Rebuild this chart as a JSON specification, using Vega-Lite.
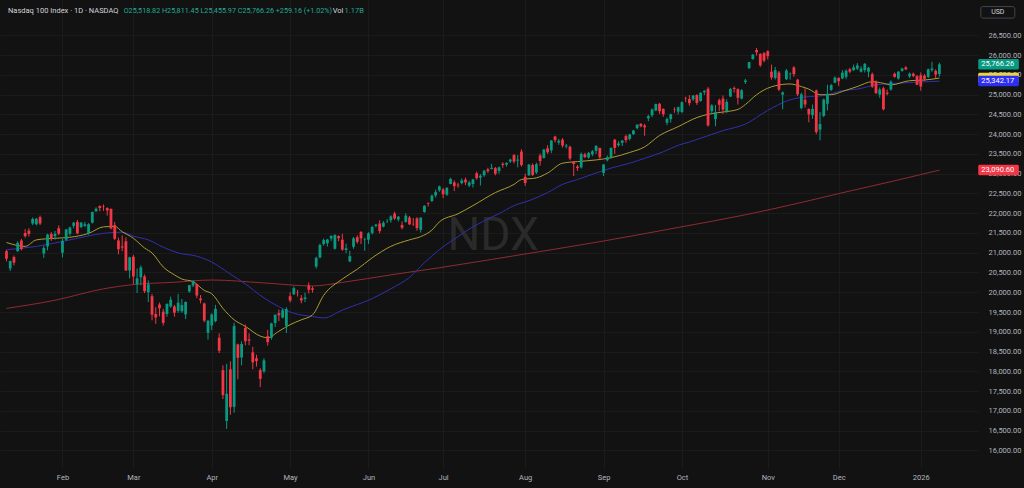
{
"$schema":"https://vega.github.io/schema/vega-lite/v6.json",
"width":978,"height":468,
"autosize":{"type":"none"},
"padding":{"left":0,"top":0,"right":46,"bottom":20},
"background":"#121212",
"config":{"view":{"stroke":null},"font":"Roboto","axis":{"labelFont":"Roboto","labelFontSize":7.5,"labelColor":"#b2b5be","ticks":false,"domain":false,"grid":true,"gridColor":"#1b1b1b","gridWidth":1,"labelOverlap":false}},
"datasets":{
"ohlc":[
{"d":"2025-01-10","i":0,"o":21040,"h":21070,"l":20780,"c":20847},
{"d":"2025-01-13","i":1,"o":20600,"h":20800,"l":20540,"c":20790},
{"d":"2025-01-14","i":2,"o":20890,"h":20930,"l":20680,"c":20750},
{"d":"2025-01-15","i":3,"o":21040,"h":21290,"l":21020,"c":21250},
{"d":"2025-01-16","i":4,"o":21310,"h":21350,"l":21060,"c":21090},
{"d":"2025-01-17","i":5,"o":21500,"h":21600,"l":21380,"c":21420},
{"d":"2025-01-21","i":6,"o":21560,"h":21620,"l":21410,"c":21475},
{"d":"2025-01-22","i":7,"o":21740,"h":21890,"l":21700,"c":21853},
{"d":"2025-01-23","i":8,"o":21720,"h":21880,"l":21690,"c":21860},
{"d":"2025-01-24","i":9,"o":21900,"h":21940,"l":21700,"c":21740},
{"d":"2025-01-27","i":10,"o":20980,"h":21180,"l":20870,"c":21120},
{"d":"2025-01-28","i":11,"o":21160,"h":21480,"l":21060,"c":21460},
{"d":"2025-01-29","i":12,"o":21475,"h":21520,"l":21300,"c":21360},
{"d":"2025-01-30","i":13,"o":21420,"h":21550,"l":21330,"c":21480},
{"d":"2025-01-31","i":14,"o":21620,"h":21690,"l":21440,"c":21480},
{"d":"2025-02-03","i":15,"o":21000,"h":21350,"l":20880,"c":21300},
{"d":"2025-02-04","i":16,"o":21330,"h":21600,"l":21300,"c":21590},
{"d":"2025-02-05","i":17,"o":21480,"h":21660,"l":21430,"c":21640},
{"d":"2025-02-06","i":18,"o":21680,"h":21780,"l":21620,"c":21760},
{"d":"2025-02-07","i":19,"o":21780,"h":21830,"l":21470,"c":21490},
{"d":"2025-02-10","i":20,"o":21650,"h":21780,"l":21620,"c":21760},
{"d":"2025-02-11","i":21,"o":21680,"h":21780,"l":21650,"c":21720},
{"d":"2025-02-12","i":22,"o":21500,"h":21750,"l":21460,"c":21720},
{"d":"2025-02-13","i":23,"o":21760,"h":22040,"l":21740,"c":22030},
{"d":"2025-02-14","i":24,"o":22050,"h":22150,"l":22030,"c":22115},
{"d":"2025-02-18","i":25,"o":22180,"h":22200,"l":22050,"c":22130},
{"d":"2025-02-19","i":26,"o":22180,"h":22220,"l":22060,"c":22170},
{"d":"2025-02-20","i":27,"o":22130,"h":22150,"l":21940,"c":22070},
{"d":"2025-02-21","i":28,"o":22110,"h":22120,"l":21590,"c":21614},
{"d":"2025-02-24","i":29,"o":21700,"h":21780,"l":21320,"c":21353},
{"d":"2025-02-25","i":30,"o":21310,"h":21380,"l":20960,"c":21090},
{"d":"2025-02-26","i":31,"o":21160,"h":21440,"l":21040,"c":21130},
{"d":"2025-02-27","i":32,"o":21290,"h":21390,"l":20540,"c":20550},
{"d":"2025-02-28","i":33,"o":20550,"h":20900,"l":20350,"c":20884},
{"d":"2025-03-03","i":34,"o":20900,"h":20950,"l":20200,"c":20400},
{"d":"2025-03-04","i":35,"o":20200,"h":20600,"l":19980,"c":20353},
{"d":"2025-03-05","i":36,"o":20380,"h":20680,"l":20180,"c":20629},
{"d":"2025-03-06","i":37,"o":20400,"h":20450,"l":19980,"c":20026},
{"d":"2025-03-07","i":38,"o":20000,"h":20300,"l":19750,"c":20201},
{"d":"2025-03-10","i":39,"o":19900,"h":19960,"l":19290,"c":19431},
{"d":"2025-03-11","i":40,"o":19450,"h":19620,"l":19200,"c":19361},
{"d":"2025-03-12","i":41,"o":19690,"h":19740,"l":19390,"c":19594},
{"d":"2025-03-13","i":42,"o":19510,"h":19580,"l":19160,"c":19225},
{"d":"2025-03-14","i":43,"o":19450,"h":19720,"l":19380,"c":19704},
{"d":"2025-03-17","i":44,"o":19640,"h":19890,"l":19610,"c":19812},
{"d":"2025-03-18","i":45,"o":19640,"h":19680,"l":19380,"c":19483},
{"d":"2025-03-19","i":46,"o":19530,"h":19960,"l":19480,"c":19737},
{"d":"2025-03-20","i":47,"o":19520,"h":19830,"l":19480,"c":19678},
{"d":"2025-03-21","i":48,"o":19440,"h":19770,"l":19320,"c":19754},
{"d":"2025-03-24","i":49,"o":20020,"h":20190,"l":19990,"c":20180},
{"d":"2025-03-25","i":50,"o":20170,"h":20300,"l":20130,"c":20288},
{"d":"2025-03-26","i":51,"o":20210,"h":20220,"l":19850,"c":19917},
{"d":"2025-03-27","i":52,"o":19840,"h":19930,"l":19720,"c":19798},
{"d":"2025-03-28","i":53,"o":19716,"h":19740,"l":19240,"c":19282},
{"d":"2025-03-31","i":54,"o":18973,"h":19300,"l":18800,"c":19279},
{"d":"2025-04-01","i":55,"o":19160,"h":19470,"l":19040,"c":19436},
{"d":"2025-04-02","i":56,"o":19270,"h":19680,"l":19240,"c":19581},
{"d":"2025-04-03","i":57,"o":18850,"h":18960,"l":18460,"c":18521},
{"d":"2025-04-04","i":58,"o":18030,"h":18150,"l":17300,"c":17398},
{"d":"2025-04-07","i":59,"o":16745,"h":18190,"l":16542,"c":17431},
{"d":"2025-04-08","i":60,"o":18050,"h":18250,"l":16900,"c":17091},
{"d":"2025-04-09","i":61,"o":17100,"h":19230,"l":16950,"c":19145},
{"d":"2025-04-10","i":62,"o":18680,"h":18700,"l":17800,"c":18343},
{"d":"2025-04-11","i":63,"o":18350,"h":18760,"l":18150,"c":18690},
{"d":"2025-04-14","i":64,"o":19100,"h":19180,"l":18660,"c":18762},
{"d":"2025-04-15","i":65,"o":18810,"h":18960,"l":18660,"c":18778},
{"d":"2025-04-16","i":66,"o":18480,"h":18620,"l":18050,"c":18228},
{"d":"2025-04-17","i":67,"o":18330,"h":18420,"l":18120,"c":18258},
{"d":"2025-04-21","i":68,"o":18030,"h":18080,"l":17600,"c":17808},
{"d":"2025-04-22","i":69,"o":18000,"h":18330,"l":17950,"c":18277},
{"d":"2025-04-23","i":70,"o":18890,"h":19050,"l":18650,"c":18737},
{"d":"2025-04-24","i":71,"o":18850,"h":19230,"l":18800,"c":19213},
{"d":"2025-04-25","i":72,"o":19220,"h":19440,"l":19120,"c":19432},
{"d":"2025-04-28","i":73,"o":19470,"h":19560,"l":19270,"c":19419},
{"d":"2025-04-29","i":74,"o":19360,"h":19590,"l":19340,"c":19546},
{"d":"2025-04-30","i":75,"o":19150,"h":19620,"l":18970,"c":19571},
{"d":"2025-05-01","i":76,"o":19900,"h":20000,"l":19740,"c":19790},
{"d":"2025-05-02","i":77,"o":19950,"h":20150,"l":19930,"c":20103},
{"d":"2025-05-05","i":78,"o":20000,"h":20060,"l":19890,"c":19992},
{"d":"2025-05-06","i":79,"o":19850,"h":19930,"l":19720,"c":19791},
{"d":"2025-05-07","i":80,"o":19830,"h":19990,"l":19750,"c":19868},
{"d":"2025-05-08","i":81,"o":20170,"h":20250,"l":19970,"c":20064},
{"d":"2025-05-09","i":82,"o":20100,"h":20150,"l":19990,"c":20062},
{"d":"2025-05-12","i":83,"o":20650,"h":20900,"l":20600,"c":20868},
{"d":"2025-05-13","i":84,"o":20880,"h":21230,"l":20860,"c":21196},
{"d":"2025-05-14","i":85,"o":21220,"h":21360,"l":21180,"c":21320},
{"d":"2025-05-15","i":86,"o":21240,"h":21350,"l":21160,"c":21335},
{"d":"2025-05-16","i":87,"o":21360,"h":21440,"l":21300,"c":21427},
{"d":"2025-05-19","i":88,"o":21100,"h":21470,"l":21080,"c":21447},
{"d":"2025-05-20","i":89,"o":21420,"h":21440,"l":21290,"c":21367},
{"d":"2025-05-21","i":90,"o":21330,"h":21480,"l":21050,"c":21079},
{"d":"2025-05-22","i":91,"o":21070,"h":21230,"l":20990,"c":21112},
{"d":"2025-05-23","i":92,"o":20780,"h":21050,"l":20760,"c":20915},
{"d":"2025-05-27","i":93,"o":21150,"h":21400,"l":21100,"c":21363},
{"d":"2025-05-28","i":94,"o":21390,"h":21440,"l":21230,"c":21275},
{"d":"2025-05-29","i":95,"o":21530,"h":21540,"l":21220,"c":21363},
{"d":"2025-05-30","i":96,"o":21330,"h":21380,"l":21050,"c":21340},
{"d":"2025-06-02","i":97,"o":21330,"h":21520,"l":21220,"c":21491},
{"d":"2025-06-03","i":98,"o":21500,"h":21680,"l":21460,"c":21651},
{"d":"2025-06-04","i":99,"o":21680,"h":21730,"l":21640,"c":21712},
{"d":"2025-06-05","i":100,"o":21740,"h":21820,"l":21490,"c":21547},
{"d":"2025-06-06","i":101,"o":21660,"h":21800,"l":21640,"c":21761},
{"d":"2025-06-09","i":102,"o":21790,"h":21850,"l":21750,"c":21797},
{"d":"2025-06-10","i":103,"o":21820,"h":21950,"l":21760,"c":21920},
{"d":"2025-06-11","i":104,"o":21990,"h":22040,"l":21830,"c":21866},
{"d":"2025-06-12","i":105,"o":21840,"h":21930,"l":21790,"c":21913},
{"d":"2025-06-13","i":106,"o":21700,"h":21790,"l":21590,"c":21631},
{"d":"2025-06-16","i":107,"o":21780,"h":22000,"l":21760,"c":21940},
{"d":"2025-06-17","i":108,"o":21890,"h":21930,"l":21700,"c":21719},
{"d":"2025-06-18","i":109,"o":21730,"h":21880,"l":21680,"c":21720},
{"d":"2025-06-20","i":110,"o":21870,"h":21900,"l":21560,"c":21626},
{"d":"2025-06-23","i":111,"o":21580,"h":21900,"l":21510,"c":21887},
{"d":"2025-06-24","i":112,"o":22030,"h":22200,"l":22010,"c":22190},
{"d":"2025-06-25","i":113,"o":22250,"h":22280,"l":22170,"c":22237},
{"d":"2025-06-26","i":114,"o":22310,"h":22470,"l":22280,"c":22447},
{"d":"2025-06-27","i":115,"o":22450,"h":22600,"l":22400,"c":22534},
{"d":"2025-06-30","i":116,"o":22580,"h":22700,"l":22540,"c":22679},
{"d":"2025-07-01","i":117,"o":22600,"h":22640,"l":22380,"c":22480},
{"d":"2025-07-02","i":118,"o":22470,"h":22660,"l":22440,"c":22641},
{"d":"2025-07-03","i":119,"o":22740,"h":22900,"l":22730,"c":22867},
{"d":"2025-07-07","i":120,"o":22780,"h":22830,"l":22560,"c":22686},
{"d":"2025-07-08","i":121,"o":22720,"h":22770,"l":22640,"c":22700},
{"d":"2025-07-09","i":122,"o":22760,"h":22880,"l":22730,"c":22830},
{"d":"2025-07-10","i":123,"o":22850,"h":22900,"l":22710,"c":22780},
{"d":"2025-07-11","i":124,"o":22700,"h":22820,"l":22660,"c":22780},
{"d":"2025-07-14","i":125,"o":22740,"h":22870,"l":22650,"c":22855},
{"d":"2025-07-15","i":126,"o":23010,"h":23050,"l":22850,"c":22884},
{"d":"2025-07-16","i":127,"o":22900,"h":22990,"l":22700,"c":22950},
{"d":"2025-07-17","i":128,"o":22960,"h":23090,"l":22920,"c":23076},
{"d":"2025-07-18","i":129,"o":23110,"h":23150,"l":23020,"c":23065},
{"d":"2025-07-21","i":130,"o":23120,"h":23250,"l":23110,"c":23150},
{"d":"2025-07-22","i":131,"o":23140,"h":23170,"l":22960,"c":22999},
{"d":"2025-07-23","i":132,"o":23070,"h":23180,"l":23000,"c":23162},
{"d":"2025-07-24","i":133,"o":23250,"h":23290,"l":23150,"c":23220},
{"d":"2025-07-25","i":134,"o":23230,"h":23290,"l":23180,"c":23272},
{"d":"2025-07-28","i":135,"o":23310,"h":23380,"l":23270,"c":23356},
{"d":"2025-07-29","i":136,"o":23470,"h":23500,"l":23260,"c":23308},
{"d":"2025-07-30","i":137,"o":23330,"h":23470,"l":23160,"c":23356},
{"d":"2025-07-31","i":138,"o":23560,"h":23620,"l":23180,"c":23218},
{"d":"2025-08-01","i":139,"o":22920,"h":23000,"l":22690,"c":22763},
{"d":"2025-08-04","i":140,"o":22960,"h":23250,"l":22940,"c":23230},
{"d":"2025-08-05","i":141,"o":23220,"h":23260,"l":22940,"c":22969},
{"d":"2025-08-06","i":142,"o":23030,"h":23280,"l":22990,"c":23240},
{"d":"2025-08-07","i":143,"o":23460,"h":23510,"l":23200,"c":23318},
{"d":"2025-08-08","i":144,"o":23400,"h":23630,"l":23380,"c":23610},
{"d":"2025-08-11","i":145,"o":23640,"h":23720,"l":23500,"c":23542},
{"d":"2025-08-12","i":146,"o":23590,"h":23850,"l":23520,"c":23839},
{"d":"2025-08-13","i":147,"o":23940,"h":23960,"l":23790,"c":23849},
{"d":"2025-08-14","i":148,"o":23790,"h":23880,"l":23730,"c":23832},
{"d":"2025-08-15","i":149,"o":23860,"h":23900,"l":23660,"c":23712},
{"d":"2025-08-18","i":150,"o":23690,"h":23750,"l":23640,"c":23713},
{"d":"2025-08-19","i":151,"o":23680,"h":23710,"l":23340,"c":23385},
{"d":"2025-08-20","i":152,"o":23300,"h":23320,"l":22940,"c":23245},
{"d":"2025-08-21","i":153,"o":23180,"h":23220,"l":23070,"c":23142},
{"d":"2025-08-22","i":154,"o":23160,"h":23540,"l":23130,"c":23498},
{"d":"2025-08-25","i":155,"o":23490,"h":23530,"l":23400,"c":23420},
{"d":"2025-08-26","i":156,"o":23410,"h":23550,"l":23380,"c":23526},
{"d":"2025-08-27","i":157,"o":23490,"h":23600,"l":23440,"c":23566},
{"d":"2025-08-28","i":158,"o":23580,"h":23720,"l":23500,"c":23704},
{"d":"2025-08-29","i":159,"o":23650,"h":23660,"l":23350,"c":23415},
{"d":"2025-09-02","i":160,"o":23020,"h":23240,"l":22940,"c":23232},
{"d":"2025-09-03","i":161,"o":23340,"h":23460,"l":23310,"c":23415},
{"d":"2025-09-04","i":162,"o":23420,"h":23660,"l":23380,"c":23653},
{"d":"2025-09-05","i":163,"o":23860,"h":23880,"l":23500,"c":23652},
{"d":"2025-09-08","i":164,"o":23720,"h":23820,"l":23680,"c":23763},
{"d":"2025-09-09","i":165,"o":23780,"h":23850,"l":23700,"c":23839},
{"d":"2025-09-10","i":166,"o":23950,"h":23990,"l":23780,"c":23849},
{"d":"2025-09-11","i":167,"o":23880,"h":24010,"l":23840,"c":23994},
{"d":"2025-09-12","i":168,"o":24000,"h":24110,"l":23980,"c":24092},
{"d":"2025-09-15","i":169,"o":24150,"h":24250,"l":24120,"c":24240},
{"d":"2025-09-16","i":170,"o":24260,"h":24280,"l":24170,"c":24200},
{"d":"2025-09-17","i":171,"o":24220,"h":24260,"l":23960,"c":24173},
{"d":"2025-09-18","i":172,"o":24400,"h":24490,"l":24330,"c":24455},
{"d":"2025-09-19","i":173,"o":24480,"h":24650,"l":24430,"c":24626},
{"d":"2025-09-22","i":174,"o":24600,"h":24770,"l":24580,"c":24762},
{"d":"2025-09-23","i":175,"o":24770,"h":24790,"l":24510,"c":24580},
{"d":"2025-09-24","i":176,"o":24640,"h":24650,"l":24440,"c":24503},
{"d":"2025-09-25","i":177,"o":24290,"h":24420,"l":24230,"c":24384},
{"d":"2025-09-26","i":178,"o":24380,"h":24520,"l":24290,"c":24503},
{"d":"2025-09-29","i":179,"o":24620,"h":24680,"l":24540,"c":24611},
{"d":"2025-09-30","i":180,"o":24570,"h":24700,"l":24500,"c":24680},
{"d":"2025-10-01","i":181,"o":24560,"h":24830,"l":24530,"c":24808},
{"d":"2025-10-02","i":182,"o":24900,"h":24950,"l":24810,"c":24890},
{"d":"2025-10-03","i":183,"o":24890,"h":24990,"l":24720,"c":24785},
{"d":"2025-10-06","i":184,"o":24880,"h":24990,"l":24840,"c":24979},
{"d":"2025-10-07","i":185,"o":24990,"h":25010,"l":24740,"c":24790},
{"d":"2025-10-08","i":186,"o":24840,"h":25060,"l":24820,"c":25047},
{"d":"2025-10-09","i":187,"o":25060,"h":25110,"l":24990,"c":25098},
{"d":"2025-10-10","i":188,"o":25150,"h":25190,"l":24190,"c":24221},
{"d":"2025-10-13","i":189,"o":24580,"h":24760,"l":24500,"c":24727},
{"d":"2025-10-14","i":190,"o":24380,"h":24740,"l":24200,"c":24557},
{"d":"2025-10-15","i":191,"o":24860,"h":24900,"l":24580,"c":24745},
{"d":"2025-10-16","i":192,"o":24900,"h":24980,"l":24510,"c":24620},
{"d":"2025-10-17","i":193,"o":24580,"h":24880,"l":24530,"c":24818},
{"d":"2025-10-20","i":194,"o":24950,"h":25170,"l":24940,"c":25142},
{"d":"2025-10-21","i":195,"o":25170,"h":25210,"l":25050,"c":25143},
{"d":"2025-10-22","i":196,"o":25140,"h":25160,"l":24750,"c":24919},
{"d":"2025-10-23","i":197,"o":24900,"h":25140,"l":24880,"c":25110},
{"d":"2025-10-24","i":198,"o":25320,"h":25400,"l":25270,"c":25358},
{"d":"2025-10-27","i":199,"o":25670,"h":25830,"l":25650,"c":25822},
{"d":"2025-10-28","i":200,"o":25900,"h":26030,"l":25880,"c":26012},
{"d":"2025-10-29","i":201,"o":26130,"h":26182,"l":25990,"c":26070},
{"d":"2025-10-30","i":202,"o":26030,"h":26050,"l":25700,"c":25740},
{"d":"2025-10-31","i":203,"o":26050,"h":26080,"l":25820,"c":25858},
{"d":"2025-11-03","i":204,"o":26100,"h":26120,"l":25890,"c":25972},
{"d":"2025-11-04","i":205,"o":25580,"h":25760,"l":25380,"c":25435},
{"d":"2025-11-05","i":206,"o":25420,"h":25700,"l":25380,"c":25620},
{"d":"2025-11-06","i":207,"o":25560,"h":25600,"l":25090,"c":25130},
{"d":"2025-11-07","i":208,"o":25000,"h":25080,"l":24630,"c":25060},
{"d":"2025-11-10","i":209,"o":25390,"h":25650,"l":25370,"c":25610},
{"d":"2025-11-11","i":210,"o":25520,"h":25560,"l":25380,"c":25533},
{"d":"2025-11-12","i":211,"o":25690,"h":25720,"l":25450,"c":25517},
{"d":"2025-11-13","i":212,"o":25380,"h":25400,"l":24960,"c":25008},
{"d":"2025-11-14","i":213,"o":24660,"h":25050,"l":24630,"c":25008},
{"d":"2025-11-17","i":214,"o":24870,"h":25160,"l":24670,"c":24750},
{"d":"2025-11-18","i":215,"o":24640,"h":24650,"l":24300,"c":24500},
{"d":"2025-11-19","i":216,"o":24480,"h":24750,"l":24390,"c":24640},
{"d":"2025-11-20","i":217,"o":25105,"h":25130,"l":24000,"c":24054},
{"d":"2025-11-21","i":218,"o":24115,"h":24560,"l":23843,"c":24255},
{"d":"2025-11-24","i":219,"o":24462,"h":24900,"l":24430,"c":24874},
{"d":"2025-11-25","i":220,"o":24770,"h":25250,"l":24600,"c":25020},
{"d":"2025-11-26","i":221,"o":25120,"h":25270,"l":25090,"c":25240},
{"d":"2025-11-28","i":222,"o":25300,"h":25460,"l":25290,"c":25434},
{"d":"2025-12-01","i":223,"o":25420,"h":25440,"l":25220,"c":25342},
{"d":"2025-12-02","i":224,"o":25410,"h":25620,"l":25390,"c":25556},
{"d":"2025-12-03","i":225,"o":25450,"h":25640,"l":25390,"c":25606},
{"d":"2025-12-04","i":226,"o":25640,"h":25680,"l":25540,"c":25581},
{"d":"2025-12-05","i":227,"o":25620,"h":25760,"l":25600,"c":25692},
{"d":"2025-12-08","i":228,"o":25658,"h":25800,"l":25620,"c":25741},
{"d":"2025-12-09","i":229,"o":25580,"h":25720,"l":25560,"c":25660},
{"d":"2025-12-10","i":230,"o":25620,"h":25800,"l":25560,"c":25780},
{"d":"2025-12-11","i":231,"o":25580,"h":25700,"l":25440,"c":25680},
{"d":"2025-12-12","i":232,"o":25520,"h":25560,"l":25170,"c":25205},
{"d":"2025-12-15","i":233,"o":25330,"h":25360,"l":25010,"c":25040},
{"d":"2025-12-16","i":234,"o":25000,"h":25180,"l":24920,"c":25130},
{"d":"2025-12-17","i":235,"o":25160,"h":25200,"l":24600,"c":24630},
{"d":"2025-12-18","i":236,"o":25050,"h":25130,"l":24980,"c":25020},
{"d":"2025-12-19","i":237,"o":25130,"h":25360,"l":25100,"c":25330},
{"d":"2025-12-22","i":238,"o":25530,"h":25560,"l":25430,"c":25450},
{"d":"2025-12-23","i":239,"o":25410,"h":25600,"l":25380,"c":25580},
{"d":"2025-12-24","i":240,"o":25600,"h":25680,"l":25580,"c":25660},
{"d":"2025-12-26","i":241,"o":25690,"h":25720,"l":25620,"c":25640},
{"d":"2025-12-29","i":242,"o":25460,"h":25560,"l":25420,"c":25530},
{"d":"2025-12-30","i":243,"o":25530,"h":25560,"l":25440,"c":25470},
{"d":"2025-12-31","i":244,"o":25470,"h":25500,"l":25240,"c":25250},
{"d":"2026-01-02","i":245,"o":25490,"h":25560,"l":25100,"c":25206},
{"d":"2026-01-05","i":246,"o":25480,"h":25520,"l":25340,"c":25400},
{"d":"2026-01-06","i":247,"o":25450,"h":25660,"l":25420,"c":25640},
{"d":"2026-01-07","i":248,"o":25620,"h":25830,"l":25580,"c":25660},
{"d":"2026-01-08","i":249,"o":25600,"h":25640,"l":25420,"c":25507},
{"d":"2026-01-09","i":250,"o":25518.82,"h":25811.45,"l":25455.97,"c":25766.26}
],
"ma":[
{"s":"m200","i":0,"v":19592},{"s":"m200","i":13,"v":19798},{"s":"m200","i":26,"v":20087},{"s":"m200","i":34,"v":20195},{"s":"m200","i":45,"v":20253},{"s":"m200","i":55,"v":20310},{"s":"m200","i":69,"v":20236},{"s":"m200","i":82,"v":20160},{"s":"m200","i":90,"v":20250},{"s":"m200","i":103,"v":20440},{"s":"m200","i":116,"v":20620},{"s":"m200","i":130,"v":20830},{"s":"m200","i":143,"v":21030},{"s":"m200","i":159,"v":21280},{"s":"m200","i":180,"v":21640},{"s":"m200","i":198,"v":21960},{"s":"m200","i":212,"v":22250},{"s":"m200","i":225,"v":22540},{"s":"m200","i":238,"v":22820},{"s":"m200","i":250,"v":23090.6},
{"s":"m50","i":0,"v":21077},{"s":"m50","i":8,"v":21160},{"s":"m50","i":17,"v":21325},{"s":"m50","i":26,"v":21490},{"s":"m50","i":29,"v":21515},{"s":"m50","i":31,"v":21520},{"s":"m50","i":34,"v":21420},{"s":"m50","i":38,"v":21325},{"s":"m50","i":42,"v":21140},{"s":"m50","i":46,"v":20995},{"s":"m50","i":51,"v":20913},{"s":"m50","i":55,"v":20764},{"s":"m50","i":60,"v":20459},{"s":"m50","i":64,"v":20211},{"s":"m50","i":69,"v":19856},{"s":"m50","i":73,"v":19633},{"s":"m50","i":77,"v":19468},{"s":"m50","i":82,"v":19386},{"s":"m50","i":85,"v":19350},{"s":"m50","i":90,"v":19550},{"s":"m50","i":98,"v":19840},{"s":"m50","i":103,"v":20088},{"s":"m50","i":108,"v":20377},{"s":"m50","i":112,"v":20748},{"s":"m50","i":116,"v":21078},{"s":"m50","i":121,"v":21408},{"s":"m50","i":125,"v":21656},{"s":"m50","i":130,"v":21900},{"s":"m50","i":132,"v":21990},{"s":"m50","i":136,"v":22192},{"s":"m50","i":140,"v":22316},{"s":"m50","i":145,"v":22522},{"s":"m50","i":149,"v":22729},{"s":"m50","i":153,"v":22852},{"s":"m50","i":158,"v":23017},{"s":"m50","i":162,"v":23141},{"s":"m50","i":167,"v":23265},{"s":"m50","i":171,"v":23389},{"s":"m50","i":176,"v":23554},{"s":"m50","i":180,"v":23719},{"s":"m50","i":183,"v":23801},{"s":"m50","i":192,"v":24090},{"s":"m50","i":198,"v":24255},{"s":"m50","i":204,"v":24600},{"s":"m50","i":210,"v":24870},{"s":"m50","i":214,"v":24940},{"s":"m50","i":219,"v":24980},{"s":"m50","i":224,"v":25100},{"s":"m50","i":228,"v":25140},{"s":"m50","i":233,"v":25246},{"s":"m50","i":242,"v":25304},{"s":"m50","i":250,"v":25342.17},
{"s":"m20","i":0,"v":21259},{"s":"m20","i":5,"v":21160},{"s":"m20","i":8,"v":21325},{"s":"m20","i":13,"v":21366},{"s":"m20","i":17,"v":21391},{"s":"m20","i":22,"v":21490},{"s":"m20","i":26,"v":21655},{"s":"m20","i":29,"v":21665},{"s":"m20","i":31,"v":21532},{"s":"m20","i":34,"v":21367},{"s":"m20","i":37,"v":21119},{"s":"m20","i":39,"v":20995},{"s":"m20","i":42,"v":20640},{"s":"m20","i":45,"v":20440},{"s":"m20","i":47,"v":20335},{"s":"m20","i":50,"v":20269},{"s":"m20","i":53,"v":20046},{"s":"m20","i":55,"v":19963},{"s":"m20","i":58,"v":19592},{"s":"m20","i":61,"v":19303},{"s":"m20","i":64,"v":19138},{"s":"m20","i":68,"v":18891},{"s":"m20","i":70,"v":18849},{"s":"m20","i":73,"v":19015},{"s":"m20","i":76,"v":19180},{"s":"m20","i":79,"v":19303},{"s":"m20","i":82,"v":19427},{"s":"m20","i":85,"v":19923},{"s":"m20","i":90,"v":20335},{"s":"m20","i":94,"v":20583},{"s":"m20","i":98,"v":20872},{"s":"m20","i":103,"v":21161},{"s":"m20","i":108,"v":21326},{"s":"m20","i":111,"v":21408},{"s":"m20","i":114,"v":21573},{"s":"m20","i":116,"v":21780},{"s":"m20","i":121,"v":21986},{"s":"m20","i":125,"v":22192},{"s":"m20","i":131,"v":22522},{"s":"m20","i":136,"v":22729},{"s":"m20","i":138,"v":22852},{"s":"m20","i":142,"v":22894},{"s":"m20","i":145,"v":23017},{"s":"m20","i":149,"v":23265},{"s":"m20","i":153,"v":23306},{"s":"m20","i":158,"v":23348},{"s":"m20","i":162,"v":23405},{"s":"m20","i":167,"v":23537},{"s":"m20","i":171,"v":23678},{"s":"m20","i":175,"v":23966},{"s":"m20","i":180,"v":24190},{"s":"m20","i":185,"v":24420},{"s":"m20","i":188,"v":24503},{"s":"m20","i":192,"v":24560},{"s":"m20","i":196,"v":24626},{"s":"m20","i":198,"v":24750},{"s":"m20","i":201,"v":24998},{"s":"m20","i":204,"v":25163},{"s":"m20","i":206,"v":25225},{"s":"m20","i":210,"v":25270},{"s":"m20","i":213,"v":25204},{"s":"m20","i":215,"v":25140},{"s":"m20","i":218,"v":24998},{"s":"m20","i":221,"v":24998},{"s":"m20","i":224,"v":25080},{"s":"m20","i":228,"v":25205},{"s":"m20","i":232,"v":25328},{"s":"m20","i":235,"v":25287},{"s":"m20","i":237,"v":25246},{"s":"m20","i":242,"v":25353},{"s":"m20","i":246,"v":25370},{"s":"m20","i":250,"v":25418.35}
],
"last":[
{"k":"m200","v":23090.6,"t":"23,090.60"},
{"k":"m20","v":25418.35,"t":"25,418.35"},
{"k":"m50","v":25342.17,"t":"25,342.17"},
{"k":"close","v":25766.26,"t":"25,766.26"}
]
},
"layer":[
{"data":{"values":[{"t":"NDX"}]},
 "mark":{"type":"text","fontSize":46,"font":"Roboto","color":"#2a2a2a","align":"center","baseline":"middle"},
 "encoding":{"text":{"field":"t"},
  "x":{"datum":130.4,"type":"quantitative","title":null,"scale":{"domain":[-0.4,259],"nice":false,"zero":false},"axis":{"orient":"bottom","values":[15,34,55,76,97,117,139,160,181,204,223,245],"labelPadding":5,"labelOverlap":false,"labelExpr":"['Feb','Mar','Apr','May','Jun','Jul','Aug','Sep','Oct','Nov','Dec','2026'][indexof([15,34,55,76,97,117,139,160,181,204,223,245],datum.value)]"}},
  "y":{"datum":21425,"type":"quantitative","title":null,"scale":{"domain":[15680,27268],"nice":false,"zero":false},"axis":{"orient":"right","values":[16000,16500,17000,17500,18000,18500,19000,19500,20000,20500,21000,21500,22000,22500,23000,23500,24000,24500,25000,25500,26000,26500],"format":",.2f","labelPadding":10,"labelAlign":"left","labelOverlap":false}}}},
{"data":{"name":"ma"},
 "mark":{"type":"line","strokeWidth":1,"interpolate":"monotone","clip":true},
 "encoding":{
  "x":{"field":"i","type":"quantitative","title":null,"scale":{"domain":[-0.4,259],"nice":false,"zero":false},"axis":{"orient":"bottom","values":[15,34,55,76,97,117,139,160,181,204,223,245],"labelPadding":5,"labelOverlap":false,"labelExpr":"['Feb','Mar','Apr','May','Jun','Jul','Aug','Sep','Oct','Nov','Dec','2026'][indexof([15,34,55,76,97,117,139,160,181,204,223,245],datum.value)]"}},
  "y":{"field":"v","type":"quantitative","title":null,"scale":{"domain":[15680,27268],"nice":false,"zero":false},"axis":{"orient":"right","values":[16000,16500,17000,17500,18000,18500,19000,19500,20000,20500,21000,21500,22000,22500,23000,23500,24000,24500,25000,25500,26000,26500],"format":",.2f","labelPadding":10,"labelAlign":"left","labelOverlap":false}},
  "color":{"field":"s","type":"nominal","legend":null,"scale":{"domain":["m200","m50","m20"],"range":["#8f2b31","#3030b0","#ab9c34"]}}}},
{"data":{"name":"ohlc"},
 "mark":{"type":"rule","strokeWidth":1},
 "encoding":{
  "x":{"field":"i","type":"quantitative","title":null,"scale":{"domain":[-0.4,259],"nice":false,"zero":false},"axis":{"orient":"bottom","values":[15,34,55,76,97,117,139,160,181,204,223,245],"labelPadding":5,"labelOverlap":false,"labelExpr":"['Feb','Mar','Apr','May','Jun','Jul','Aug','Sep','Oct','Nov','Dec','2026'][indexof([15,34,55,76,97,117,139,160,181,204,223,245],datum.value)]"}},
  "y":{"field":"l","type":"quantitative","title":null,"scale":{"domain":[15680,27268],"nice":false,"zero":false},"axis":{"orient":"right","values":[16000,16500,17000,17500,18000,18500,19000,19500,20000,20500,21000,21500,22000,22500,23000,23500,24000,24500,25000,25500,26000,26500],"format":",.2f","labelPadding":10,"labelAlign":"left","labelOverlap":false}},
  "y2":{"field":"h"},
  "color":{"condition":{"test":"datum.c >= datum.o","value":"#089981"},"value":"#f23645"}}},
{"data":{"name":"ohlc"},
 "mark":{"type":"bar","size":2.8},
 "encoding":{
  "x":{"field":"i","type":"quantitative","title":null,"scale":{"domain":[-0.4,259],"nice":false,"zero":false},"axis":{"orient":"bottom","values":[15,34,55,76,97,117,139,160,181,204,223,245],"labelPadding":5,"labelOverlap":false,"labelExpr":"['Feb','Mar','Apr','May','Jun','Jul','Aug','Sep','Oct','Nov','Dec','2026'][indexof([15,34,55,76,97,117,139,160,181,204,223,245],datum.value)]"}},
  "y":{"field":"o","type":"quantitative","title":null,"scale":{"domain":[15680,27268],"nice":false,"zero":false},"axis":{"orient":"right","values":[16000,16500,17000,17500,18000,18500,19000,19500,20000,20500,21000,21500,22000,22500,23000,23500,24000,24500,25000,25500,26000,26500],"format":",.2f","labelPadding":10,"labelAlign":"left","labelOverlap":false}},
  "y2":{"field":"c"},
  "color":{"condition":{"test":"datum.c >= datum.o","value":"#089981"},"value":"#f23645"}}},
{"data":{"values":[{"t":"Nasdaq 100 Index · 1D · NASDAQ"}]},
 "mark":{"type":"text","fontSize":7.5,"font":"Roboto","color":"#d1d4dc","align":"left","baseline":"middle"},
 "encoding":{"text":{"field":"t"},
  "x":{"datum":0.4,"type":"quantitative","title":null,"scale":{"domain":[-0.4,259],"nice":false,"zero":false},"axis":{"orient":"bottom","values":[15,34,55,76,97,117,139,160,181,204,223,245],"labelPadding":5,"labelOverlap":false,"labelExpr":"['Feb','Mar','Apr','May','Jun','Jul','Aug','Sep','Oct','Nov','Dec','2026'][indexof([15,34,55,76,97,117,139,160,181,204,223,245],datum.value)]"}},
  "y":{"datum":27107,"type":"quantitative","title":null,"scale":{"domain":[15680,27268],"nice":false,"zero":false},"axis":{"orient":"right","values":[16000,16500,17000,17500,18000,18500,19000,19500,20000,20500,21000,21500,22000,22500,23000,23500,24000,24500,25000,25500,26000,26500],"format":",.2f","labelPadding":10,"labelAlign":"left","labelOverlap":false}}}},
{"data":{"values":[{"t":"O25,518.82 H25,811.45 L25,455.97 C25,766.26 +259.16 (+1.02%)"}]},
 "mark":{"type":"text","fontSize":7.2,"font":"Roboto","color":"#22ab94","align":"left","baseline":"middle"},
 "encoding":{"text":{"field":"t"},
  "x":{"datum":31.4,"type":"quantitative","title":null,"scale":{"domain":[-0.4,259],"nice":false,"zero":false},"axis":{"orient":"bottom","values":[15,34,55,76,97,117,139,160,181,204,223,245],"labelPadding":5,"labelOverlap":false,"labelExpr":"['Feb','Mar','Apr','May','Jun','Jul','Aug','Sep','Oct','Nov','Dec','2026'][indexof([15,34,55,76,97,117,139,160,181,204,223,245],datum.value)]"}},
  "y":{"datum":27107,"type":"quantitative","title":null,"scale":{"domain":[15680,27268],"nice":false,"zero":false},"axis":{"orient":"right","values":[16000,16500,17000,17500,18000,18500,19000,19500,20000,20500,21000,21500,22000,22500,23000,23500,24000,24500,25000,25500,26000,26500],"format":",.2f","labelPadding":10,"labelAlign":"left","labelOverlap":false}}}},
{"data":{"values":[{"t":"Vol"}]},
 "mark":{"type":"text","fontSize":7.5,"font":"Roboto","color":"#d1d4dc","align":"left","baseline":"middle"},
 "encoding":{"text":{"field":"t"},
  "x":{"datum":87.4,"type":"quantitative","title":null,"scale":{"domain":[-0.4,259],"nice":false,"zero":false},"axis":{"orient":"bottom","values":[15,34,55,76,97,117,139,160,181,204,223,245],"labelPadding":5,"labelOverlap":false,"labelExpr":"['Feb','Mar','Apr','May','Jun','Jul','Aug','Sep','Oct','Nov','Dec','2026'][indexof([15,34,55,76,97,117,139,160,181,204,223,245],datum.value)]"}},
  "y":{"datum":27107,"type":"quantitative","title":null,"scale":{"domain":[15680,27268],"nice":false,"zero":false},"axis":{"orient":"right","values":[16000,16500,17000,17500,18000,18500,19000,19500,20000,20500,21000,21500,22000,22500,23000,23500,24000,24500,25000,25500,26000,26500],"format":",.2f","labelPadding":10,"labelAlign":"left","labelOverlap":false}}}},
{"data":{"values":[{"t":"1.17B"}]},
 "mark":{"type":"text","fontSize":7.5,"font":"Roboto","color":"#22ab94","align":"left","baseline":"middle"},
 "encoding":{"text":{"field":"t"},
  "x":{"datum":90.6,"type":"quantitative","title":null,"scale":{"domain":[-0.4,259],"nice":false,"zero":false},"axis":{"orient":"bottom","values":[15,34,55,76,97,117,139,160,181,204,223,245],"labelPadding":5,"labelOverlap":false,"labelExpr":"['Feb','Mar','Apr','May','Jun','Jul','Aug','Sep','Oct','Nov','Dec','2026'][indexof([15,34,55,76,97,117,139,160,181,204,223,245],datum.value)]"}},
  "y":{"datum":27107,"type":"quantitative","title":null,"scale":{"domain":[15680,27268],"nice":false,"zero":false},"axis":{"orient":"right","values":[16000,16500,17000,17500,18000,18500,19000,19500,20000,20500,21000,21500,22000,22500,23000,23500,24000,24500,25000,25500,26000,26500],"format":",.2f","labelPadding":10,"labelAlign":"left","labelOverlap":false}}}},
{"data":{"name":"last"},
 "mark":{"type":"bar","size":10.5,"cornerRadius":1.5},
 "encoding":{
  "x":{"datum":260.4,"type":"quantitative","title":null,"scale":{"domain":[-0.4,259],"nice":false,"zero":false},"axis":{"orient":"bottom","values":[15,34,55,76,97,117,139,160,181,204,223,245],"labelPadding":5,"labelOverlap":false,"labelExpr":"['Feb','Mar','Apr','May','Jun','Jul','Aug','Sep','Oct','Nov','Dec','2026'][indexof([15,34,55,76,97,117,139,160,181,204,223,245],datum.value)]"}},
  "x2":{"datum":271.3},
  "y":{"field":"v","type":"quantitative","title":null,"scale":{"domain":[15680,27268],"nice":false,"zero":false},"axis":{"orient":"right","values":[16000,16500,17000,17500,18000,18500,19000,19500,20000,20500,21000,21500,22000,22500,23000,23500,24000,24500,25000,25500,26000,26500],"format":",.2f","labelPadding":10,"labelAlign":"left","labelOverlap":false}},
  "color":{"field":"k","type":"nominal","legend":null,"scale":{"domain":["m200","m20","m50","close"],"range":["#f23645","#e8d543","#2e2ef2","#089981"]}}}},
{"data":{"name":"last"},
 "transform":[{"filter":"datum.k != 'm20'"}],
 "mark":{"type":"text","fontSize":7.5,"font":"Roboto","color":"#ffffff","align":"center","baseline":"middle"},
 "encoding":{"text":{"field":"t"},
  "x":{"datum":265.65,"type":"quantitative","title":null,"scale":{"domain":[-0.4,259],"nice":false,"zero":false},"axis":{"orient":"bottom","values":[15,34,55,76,97,117,139,160,181,204,223,245],"labelPadding":5,"labelOverlap":false,"labelExpr":"['Feb','Mar','Apr','May','Jun','Jul','Aug','Sep','Oct','Nov','Dec','2026'][indexof([15,34,55,76,97,117,139,160,181,204,223,245],datum.value)]"}},
  "y":{"field":"v","type":"quantitative","title":null,"scale":{"domain":[15680,27268],"nice":false,"zero":false},"axis":{"orient":"right","values":[16000,16500,17000,17500,18000,18500,19000,19500,20000,20500,21000,21500,22000,22500,23000,23500,24000,24500,25000,25500,26000,26500],"format":",.2f","labelPadding":10,"labelAlign":"left","labelOverlap":false}}}},
{"data":{"values":[{"t":"USD"}]},
 "mark":{"type":"bar","size":11.5,"cornerRadius":2,"fill":"#121212","stroke":"#434651","strokeWidth":1},
 "encoding":{
  "x":{"datum":261.1,"type":"quantitative","title":null,"scale":{"domain":[-0.4,259],"nice":false,"zero":false},"axis":{"orient":"bottom","values":[15,34,55,76,97,117,139,160,181,204,223,245],"labelPadding":5,"labelOverlap":false,"labelExpr":"['Feb','Mar','Apr','May','Jun','Jul','Aug','Sep','Oct','Nov','Dec','2026'][indexof([15,34,55,76,97,117,139,160,181,204,223,245],datum.value)]"}},
  "x2":{"datum":270.2},
  "y":{"datum":27082,"type":"quantitative","title":null,"scale":{"domain":[15680,27268],"nice":false,"zero":false},"axis":{"orient":"right","values":[16000,16500,17000,17500,18000,18500,19000,19500,20000,20500,21000,21500,22000,22500,23000,23500,24000,24500,25000,25500,26000,26500],"format":",.2f","labelPadding":10,"labelAlign":"left","labelOverlap":false}}}},
{"data":{"values":[{"t":"USD"}]},
 "mark":{"type":"text","fontSize":7,"font":"Roboto","color":"#d1d4dc","align":"center","baseline":"middle"},
 "encoding":{"text":{"field":"t"},
  "x":{"datum":265.65,"type":"quantitative","title":null,"scale":{"domain":[-0.4,259],"nice":false,"zero":false},"axis":{"orient":"bottom","values":[15,34,55,76,97,117,139,160,181,204,223,245],"labelPadding":5,"labelOverlap":false,"labelExpr":"['Feb','Mar','Apr','May','Jun','Jul','Aug','Sep','Oct','Nov','Dec','2026'][indexof([15,34,55,76,97,117,139,160,181,204,223,245],datum.value)]"}},
  "y":{"datum":27082,"type":"quantitative","title":null,"scale":{"domain":[15680,27268],"nice":false,"zero":false},"axis":{"orient":"right","values":[16000,16500,17000,17500,18000,18500,19000,19500,20000,20500,21000,21500,22000,22500,23000,23500,24000,24500,25000,25500,26000,26500],"format":",.2f","labelPadding":10,"labelAlign":"left","labelOverlap":false}}}}
],
"resolve":{"scale":{"color":"independent"}}
}
